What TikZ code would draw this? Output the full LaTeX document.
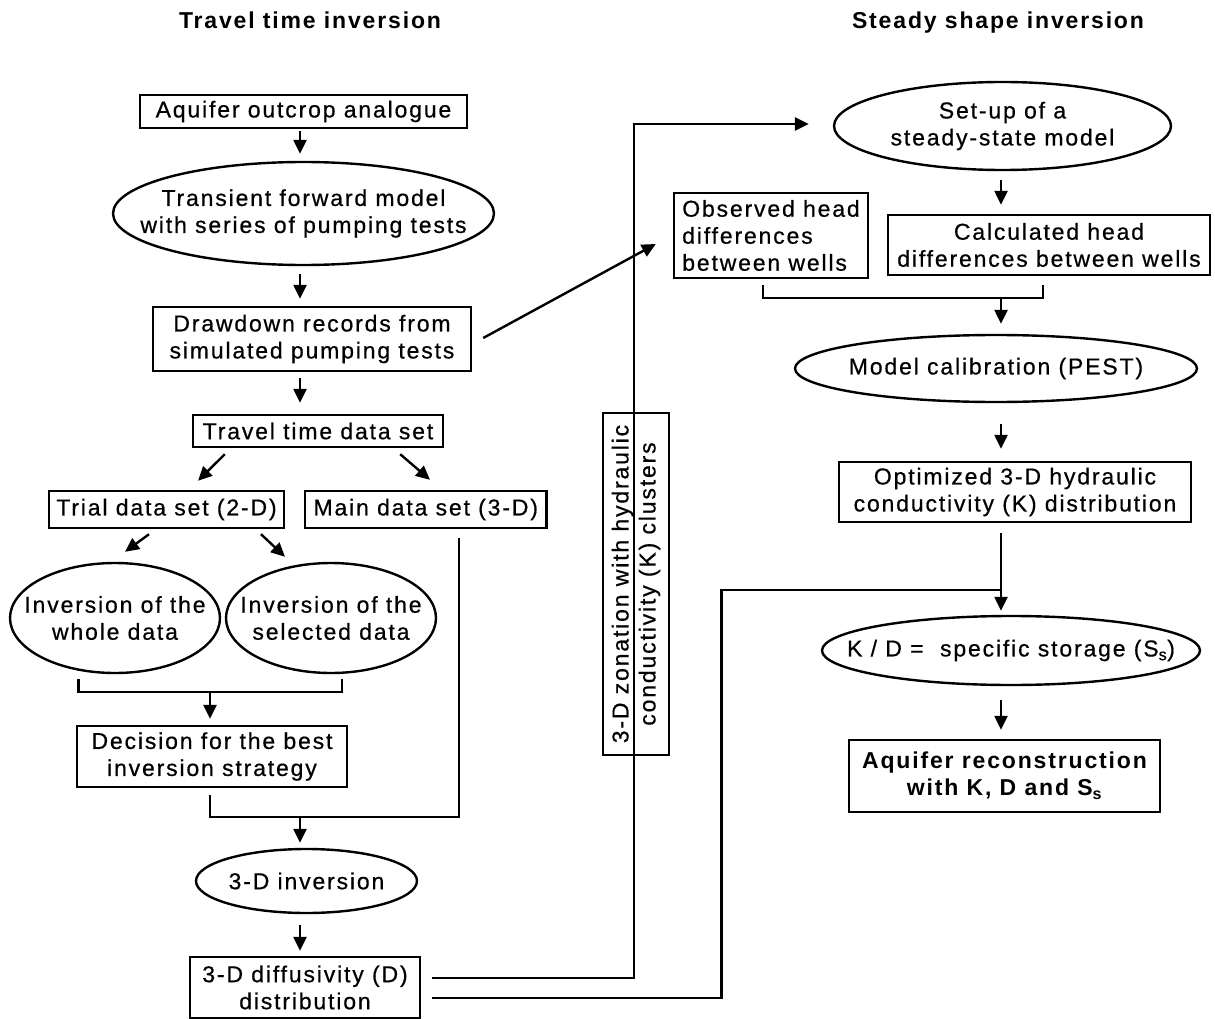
\documentclass[tikz,border=0pt]{standalone}
\usepackage{fontspec}
\setmainfont{Liberation Sans}[LetterSpace=8, UprightFeatures={FakeBold=0.6}]
\usetikzlibrary{arrows.meta,calc,shapes.geometric}
\begin{document}
\begin{tikzpicture}[x=1pt,y=-1pt,
  every node/.style={font=\fontsize{23}{27}\selectfont},
  ln/.style={line width=2.4pt},
  box/.style 2 args={draw, ln, rectangle, inner sep=-200pt,
    minimum width=#1pt, minimum height=#2pt, align=center},
  oval/.style 2 args={draw, ln, ellipse, inner sep=-200pt,
    minimum width=#1pt, minimum height=#2pt, align=center},
  title/.style={font=\fontsize{23}{27}\selectfont\bfseries, anchor=base},
  arr/.style={ln, -{Triangle[length=14pt,width=13pt]}},
  wire/.style={ln}
]
\useasboundingbox (0,0) rectangle (1215,1019);

% column headings
\node[title] (t1) at (310,29) {Travel time inversion};
\node[title] (t2) at (998,29) {Steady shape inversion};

% travel time inversion branch
\node[box={327}{33}] (aq) at (303.5,111.5) {Aquifer outcrop analogue};
\node[oval={381}{103}] (tfm) at (303.5,213.5) {Transient forward model\\with series of pumping tests};
\node[box={318}{64}] (dd) at (312,339) {Drawdown records from\\simulated pumping tests};
\node[box={250}{32}] (tt) at (318,431) {Travel time data set};
\node[box={235}{37}] (trial) at (166.5,509.5) {Trial data set (2-D)};
\node[box={241.5}{37}] (main) at (425.75,509.5) {Main data set (3-D)};
\node[oval={210}{110}] (whole) at (115,618) {Inversion of the\\whole data};
\node[oval={210}{110}] (sel) at (331,618) {Inversion of the\\selected data};
\node[box={270}{61}] (dec) at (212,756.5) {Decision for the best\\inversion strategy};
\node[oval={221}{64}] (inv) at (306.5,881) {3-D inversion};
\node[box={229.5}{61}] (diff) at (305,987.5) {3-D diffusivity (D)\\distribution};

% zonation (vertical box)
\node[box={342}{66}, rotate=90] (zone) at (636,584) {3-D zonation with hydraulic\\conductivity (K) clusters};

% steady shape inversion branch
\node[oval={337}{88}] (setup) at (1002.5,126) {Set-up of a\\steady-state model};
\node[box={194}{85}, align=left] (obs) at (771,235.5) {Observed head\\differences\\between wells};
\node[box={322}{60}] (calc) at (1049,245) {Calculated head\\differences between wells};
\node[oval={402}{67}] (calib) at (996,368.5) {Model calibration (PEST)};
\node[box={352}{60}] (opt) at (1015,492) {Optimized 3-D hydraulic\\conductivity (K) distribution};
\node[oval={378}{69}] (kd) at (1011,650.5) {K / D = \ specific storage (S\textsubscript{s})};
\node[box={311}{72}, font=\fontsize{23}{27}\selectfont\bfseries] (recon) at (1004.5,776) {Aquifer reconstruction\\with K, D and S\textsubscript{s}};

% junction points of the connectors
\coordinate (colL) at (300,0);
\coordinate (colR) at (1001,0);
\coordinate (j1) at (210,692);
\coordinate (j2) at (300,817);
\coordinate (mj) at (459,817);
\coordinate (rj) at (1001,298);
\coordinate (zt) at (634,124);
\coordinate (kj) at (721.5,590);

% left column arrows
\draw[arr, shorten <=2pt, shorten >=7pt] (aq.south -| colL) -- (tfm.north -| colL);
\draw[arr, shorten <=8pt, shorten >=7pt] (tfm.south -| colL) -- (dd.north -| colL);
\draw[arr, shorten <=6pt, shorten >=11pt] (dd.south -| colL) -- (tt.north -| colL);
\draw[arr] ($(tt.south west)+(33,6)$) -- ($(trial.north)+(31.5,-9)$);
\draw[arr] ($(tt.south east)+(-44,6)$) -- ($(main.north)+(4.25,-10)$);
\draw[arr] ($(trial.south)+(-17.5,5)$) -- ($(whole.north)+(10,-10)$);
\draw[arr] ($(trial.south)+(94.5,5)$) -- ($(sel.north)+(-46,-5)$);
\draw[wire] ($(whole.south)+(-36.5,5)$) |- (j1) -| ($(sel.south)+(11,5)$);
\draw[arr, shorten >=6pt] (j1) -- (j1 |- dec.north);
\draw[wire] ($(dec.south -| j1)+(0,7)$) |- (mj) -- ($(main.south -| mj)+(0,9)$);
\draw[arr, shorten >=5pt] (j2) -- (j2 |- inv.north);
\draw[arr, shorten <=11pt, shorten >=5pt] (inv.south -| colL) -- (diff.north -| colL);

% links between the two branches
\draw[arr] ($(dd.east)+(11,-1)$) -- ($(obs.west)+(-17,8.5)$);
\draw[arr, shorten >=24pt] ($(diff.east)+(11,-9.5)$) -| (zt) -- (zt -| setup.west);
\draw[wire] ($(diff.east)+(11,10.5)$) -| (kj) -- (kj -| colR);

% right column arrows
\draw[arr, shorten <=9pt, shorten >=9pt] (setup.south -| colR) -- (calc.north -| colR);
\draw[wire] ($(obs.south)+(-8,6)$) |- (rj) -| ($(calc.south)+(-6,9)$);
\draw[arr, shorten >=10pt] (rj) -- (rj |- calib.north);
\draw[arr, shorten <=21pt, shorten >=12pt] (calib.south -| colR) -- (opt.north -| colR);
\draw[arr, shorten <=10pt, shorten >=4pt] (opt.south -| colR) -- (kd.north -| colR);
\draw[arr, shorten <=14pt, shorten >=9pt] (kd.south -| colR) -- (recon.north -| colR);
\end{tikzpicture}
\end{document}
